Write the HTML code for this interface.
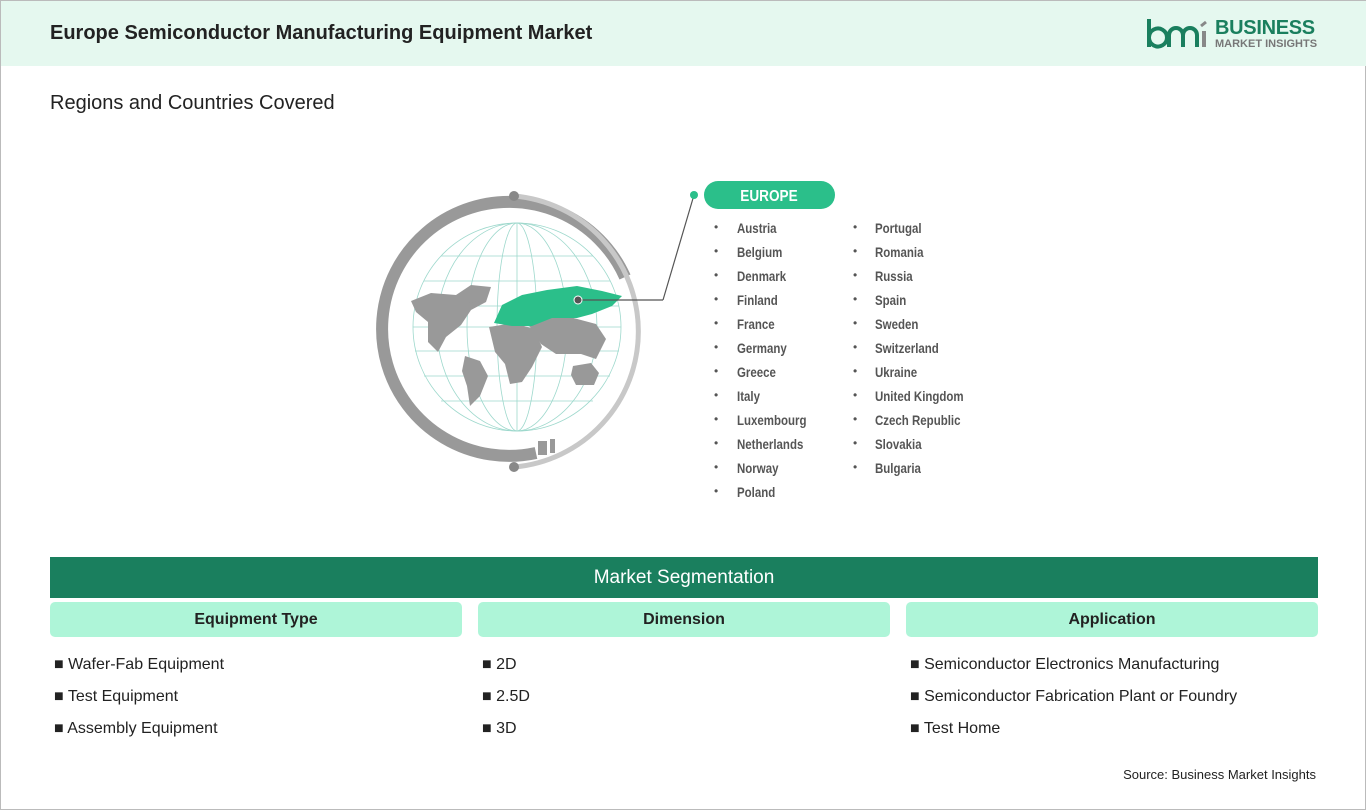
<!DOCTYPE html>
<html><head><meta charset="utf-8"><style>
*{margin:0;padding:0;box-sizing:border-box}
body{width:1366px;height:810px;background:#fff;font-family:"Liberation Sans",sans-serif;position:relative;overflow:hidden;border:1px solid #bbb}
.hdr{position:absolute;left:0;top:0;width:1366px;height:65px;background:#e5f8ef}
.t{position:absolute;left:49px;top:21px;font-size:20px;font-weight:bold;color:#222}
.sub{position:absolute;left:49px;top:91px;font-size:20px;color:#222}
.c{position:absolute;font-size:14px;font-weight:bold;color:#555;transform:scaleX(0.82);transform-origin:left top}
.b{position:absolute;font-size:12px;color:#555}
.seg{position:absolute;left:49px;top:556px;width:1268px;height:41px;background:#1a7f5e;color:#fff;font-size:19px;text-align:center;line-height:41px}
.sh{position:absolute;top:601px;width:412px;height:35px;background:#aef5d8;border-radius:5px;text-align:center;line-height:35px;font-size:16px;font-weight:bold;color:#222}
.it{position:absolute;font-size:16px;color:#222}
</style></head><body>
<div class="hdr"></div>
<div class="t">Europe Semiconductor Manufacturing Equipment Market</div>
<svg style="position:absolute;left:1144px;top:16px" width="66" height="34" viewBox="0 0 66 34">
<path d="M4 2 V30 M4 20 a9 9 0 1 1 0 1" stroke="#1a7f5e" stroke-width="4" fill="none"/>
<path d="M24 30 V18 a7 7 0 0 1 14 0 V30 M38 18 a7 7 0 0 1 14 0 V30" stroke="#1a7f5e" stroke-width="4" fill="none"/>
<path d="M59 30 V14" stroke="#888" stroke-width="4"/><path d="M56 9 l5-4" stroke="#888" stroke-width="3"/>
</svg>
<div style="position:absolute;left:1214px;top:16px;font-size:20px;font-weight:bold;color:#1a7f5e;letter-spacing:-0.3px">BUSINESS</div>
<div style="position:absolute;left:1214px;top:37px;font-size:11px;font-weight:bold;color:#777">MARKET INSIGHTS</div>
<div class="sub">Regions and Countries Covered</div>

<svg style="position:absolute;left:0;top:0" width="1366" height="550">
<path d="M624 276 A127 127 0 1 0 535 452" stroke="#999" stroke-width="12" fill="none"/>
<rect x="537" y="440" width="9" height="14" fill="#999"/><rect x="549" y="438" width="5" height="14" fill="#999"/>
<path d="M513 195 A136 136 0 0 1 513 466" stroke="#c8c8c8" stroke-width="5" fill="none"/>
<circle cx="513" cy="195" r="5" fill="#888"/><circle cx="513" cy="466" r="5" fill="#888"/>
<g stroke="#9dd8cc" stroke-width="0.8" fill="none">
<circle cx="516" cy="326" r="104"/>
<ellipse cx="516" cy="326" rx="80" ry="104"/><ellipse cx="516" cy="326" rx="50" ry="104"/><ellipse cx="516" cy="326" rx="20" ry="104"/>
<line x1="516" y1="222" x2="516" y2="430"/>
<line x1="440" y1="255" x2="592" y2="255"/><line x1="423" y1="280" x2="609" y2="280"/><line x1="414" y1="305" x2="618" y2="305"/>
<line x1="412" y1="326" x2="620" y2="326"/><line x1="414" y1="350" x2="618" y2="350"/><line x1="423" y1="375" x2="609" y2="375"/><line x1="440" y1="400" x2="592" y2="400"/>
</g>
<g fill="#999">
<path d="M410 300 l20-8 25 2 15-10 20 2 -5 15 -15 8 -10 15 -15 12 -8 15 -10-10 0-20 -12-10z"/>
<path d="M464 355 l15 5 8 15 -8 20 -10 10 -3-20 -5-15z"/>
<path d="M488 326 l25-4 20 6 8 18 -10 20 -10 15 -12 2 -5-20 -10-12z"/>
<path d="M525 320 l40-5 30 8 10 15 -10 20 -15-5 -25 0 -15-10z"/>
<path d="M572 365 l18-3 8 10 -5 12 -18 0 -5-10z"/>
<path d="M460 292 l12-6 12 2 -5 12 -12 2z"/>
</g>
<path d="M493 322 l8-18 20-10 25-5 30-4 25 5 20 5 -10 10 -20 8 -15 4 -25 0 -20 8 -20 0z" fill="#2bbf8a"/>
<line x1="693" y1="194" x2="662" y2="299" stroke="#555" stroke-width="1.2"/>
<line x1="662" y1="299" x2="577" y2="299" stroke="#555" stroke-width="1.2"/>
<circle cx="577" cy="299" r="4" fill="#555" stroke="#fff" stroke-width="1"/>
<circle cx="693" cy="194" r="4" fill="#2bbf8a"/>
<rect x="703" y="180" width="131" height="28" rx="14" fill="#2bbf8a"/>
<text x="768" y="200" text-anchor="middle" font-size="16" font-weight="bold" fill="#fff" transform="translate(768 0) scale(0.85 1) translate(-768 0)">EUROPE</text>
</svg>

<div class="b" style="left:713px;top:214px;line-height:24px">•<br>•<br>•<br>•<br>•<br>•<br>•<br>•<br>•<br>•<br>•<br>•</div>
<div class="c" style="left:736px;top:215px;line-height:24px">Austria<br>Belgium<br>Denmark<br>Finland<br>France<br>Germany<br>Greece<br>Italy<br>Luxembourg<br>Netherlands<br>Norway<br>Poland</div>
<div class="b" style="left:852px;top:214px;line-height:24px">•<br>•<br>•<br>•<br>•<br>•<br>•<br>•<br>•<br>•<br>•</div>
<div class="c" style="left:874px;top:215px;line-height:24px">Portugal<br>Romania<br>Russia<br>Spain<br>Sweden<br>Switzerland<br>Ukraine<br>United Kingdom<br>Czech Republic<br>Slovakia<br>Bulgaria</div>

<div class="seg">Market Segmentation</div>
<div class="sh" style="left:49px">Equipment Type</div>
<div class="sh" style="left:477px">Dimension</div>
<div class="sh" style="left:905px">Application</div>
<div class="it" style="left:53px;top:648px;line-height:32px">■ Wafer-Fab Equipment<br>■ Test Equipment<br>■ Assembly Equipment</div>
<div class="it" style="left:481px;top:648px;line-height:32px">■ 2D<br>■ 2.5D<br>■ 3D</div>
<div class="it" style="left:909px;top:648px;line-height:32px">■ Semiconductor Electronics Manufacturing<br>■ Semiconductor Fabrication Plant or Foundry<br>■ Test Home</div>
<div style="position:absolute;right:49px;top:766px;font-size:13px;color:#222">Source: Business Market Insights</div>
</body></html>
